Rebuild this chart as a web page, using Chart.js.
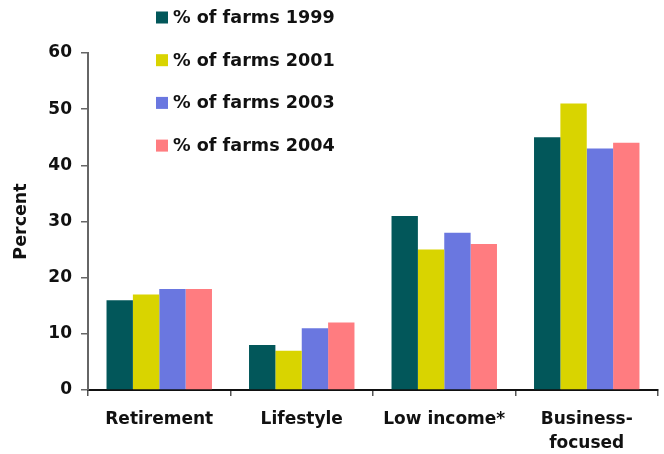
<!DOCTYPE html>
<html>
<head>
<meta charset="utf-8">
<script src="https://cdn.jsdelivr.net/npm/chart.js@4/dist/chart.umd.min.js"></script>
<style>
  html, body { margin: 0; padding: 0; background: #fff; }
  #wrap { width: 664px; height: 454px; position: relative; }
</style>
</head>
<body>
<div id="wrap"><canvas id="farmChart"></canvas></div>
<script>
// Farm types by year
const categories = ['Retirement', 'Lifestyle', 'Low income*', ['Business-', 'focused']];
const seriesNames = ['% of farms 1999', '% of farms 2001', '% of farms 2003', '% of farms 2004'];
const farms1999 = [16, 8, 31, 45];
const farms2001 = [17, 7, 25, 51];
const farms2003 = [18, 11, 28, 43];
const farms2004 = [18, 12, 26, 44];
const yTicks = [0, 10, 20, 30, 40, 50, 60];

const colors = ['#02575A', '#D9D400', '#6A77E0', '#FF7C80'];
const FONT = "'DejaVu Sans', Verdana, sans-serif";

// vertical legend stacked above the plot
const sideLegend = {
  id: 'sideLegend',
  afterDraw(chart) {
    const ctx = chart.ctx;
    ctx.save();
    ctx.font = 'bold 17.6px ' + FONT;
    ctx.textBaseline = 'middle';
    chart.data.datasets.forEach((ds, i) => {
      const y = 17.5 + i * 42.7;
      ctx.fillStyle = ds.backgroundColor;
      ctx.fillRect(156, y - 6, 12, 12);
      ctx.fillStyle = '#111';
      ctx.fillText(ds.label, 173, y + 1);
    });
    ctx.restore();
  }
};

const seriesData = [farms1999, farms2001, farms2003, farms2004];

new Chart(document.getElementById('farmChart'), {
  type: 'bar',
  data: {
    labels: categories,
    datasets: seriesNames.map((name, i) => ({
      label: name,
      data: seriesData[i],
      backgroundColor: colors[i],
      borderWidth: 0,
      categoryPercentage: 0.74,
      barPercentage: 1.0
    }))
  },
  options: {
    responsive: true,
    maintainAspectRatio: false,
    animation: false,
    layout: { padding: { top: 53, right: 6, left: 0, bottom: 0 } },
    plugins: {
      legend: { display: false },
      tooltip: { enabled: false }
    },
    scales: {
      x: {
        offset: true,
        grid: {
          offset: true,
          drawOnChartArea: false,
          tickLength: 6,
          color: '#555',
          lineWidth: 1.5
        },
        border: { color: '#111', width: 2 },
        ticks: {
          color: '#111',
          padding: 12,
          maxRotation: 0,
          autoSkip: false,
          font: { family: FONT, size: 17, weight: 'bold', lineHeight: 1.4 }
        },
        afterFit(scale) { scale.height = 64; }
      },
      y: {
        min: 0,
        max: 60,
        afterBuildTicks(scale) { scale.ticks = yTicks.map(v => ({ value: v })); },
        grid: {
          drawOnChartArea: false,
          tickLength: 7,
          color: '#666',
          lineWidth: 1.5
        },
        border: { color: '#666', width: 2 },
        ticks: {
          color: '#111',
          padding: 9,
          font: { family: FONT, size: 17, weight: 'bold' }
        },
        title: {
          display: true,
          text: 'Percent',
          color: '#111',
          padding: { top: 11, bottom: 0 },
          font: { family: FONT, size: 17.5, weight: 'bold' }
        },
        afterFit(scale) { scale.width = 88; }
      }
    }
  },
  plugins: [sideLegend]
});
</script>
</body>
</html>
